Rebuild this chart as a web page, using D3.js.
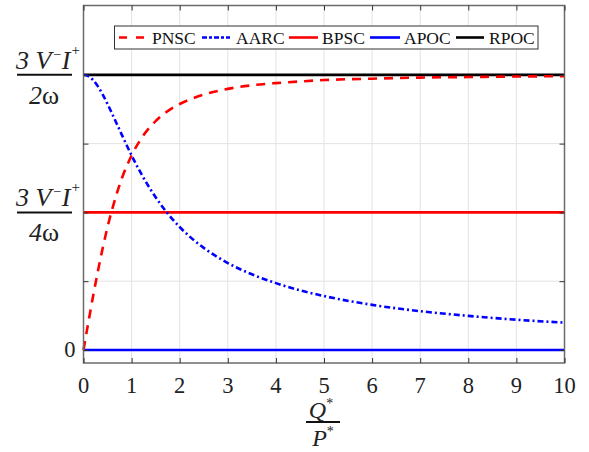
<!DOCTYPE html>
<html><head><meta charset="utf-8">
<script src="https://cdn.jsdelivr.net/npm/d3@7"></script>
<style>body{margin:0;background:#fff}svg{display:block}</style>
</head><body>
<svg id="c" width="589" height="452"></svg>
<script>
const xVals = [0,0.1,0.2,0.3,0.4,0.5,0.6,0.8,1,1.25,1.5,1.75,2,2.5,3,3.5,4,4.5,5,6,7,8,9,10];
const pnsc = [0,0.0995,0.196,0.287,0.371,0.447,0.514,0.625,0.707,0.781,0.832,0.868,0.894,0.928,0.949,0.962,0.970,0.976,0.981,0.986,0.990,0.992,0.994,0.995];
const aarc = [1,0.995,0.981,0.958,0.928,0.894,0.857,0.781,0.707,0.625,0.555,0.496,0.447,0.371,0.316,0.275,0.243,0.217,0.196,0.164,0.141,0.124,0.110,0.0995];
const bpscLevel = [0.5, 0.5];
const apocLevel = [0, 0];
const rpocLevel = [1, 1];
const constX = [0, 10];
const xTicks = [0,1,2,3,4,5,6,7,8,9,10];
const yTicks = [0,0.25,0.5,0.75,1];
const seriesNames = ["PNSC","AARC","BPSC","APOC","RPOC"];

const svg = d3.select("#c");
const L=83.5, R=564.5, T=5.5, B=363;
const x = d3.scaleLinear().domain([0,10]).range([L,R]);
const y = d3.scaleLinear().domain([-0.0473,1.252]).range([B,T]);
const font = "'Liberation Serif','Times New Roman',Times,serif";

// grid
const g = svg.append("g");
g.selectAll(".gx").data(xTicks.slice(1,-1)).enter().append("line")
  .attr("x1",d=>x(d)).attr("x2",d=>x(d)).attr("y1",T).attr("y2",B)
  .attr("stroke","#e3e3e3").attr("stroke-width",1);
g.selectAll(".gy").data(yTicks).enter().append("line")
  .attr("x1",L).attr("x2",R).attr("y1",d=>y(d)).attr("y2",d=>y(d))
  .attr("stroke","#e3e3e3").attr("stroke-width",1);

// data lines
const line = d3.line().x(d=>x(d[0])).y(d=>y(d[1])).curve(d3.curveMonotoneX);
const styles = {
  PNSC:{c:"#ff0000",dash:"9,7"},
  AARC:{c:"#0000ff",dash:"6,3,2,3"},
  BPSC:{c:"#ff0000",dash:null},
  APOC:{c:"#0000ff",dash:null},
  RPOC:{c:"#000000",dash:null}
};
function draw(xs, ys, s){
  svg.append("path").datum(xs.map((v,i)=>[v,ys[i]])).attr("d",line)
    .attr("fill","none").attr("stroke",s.c).attr("stroke-width",2.6)
    .attr("stroke-dasharray",s.dash);
}
draw(constX, rpocLevel, styles.RPOC);
draw(constX, bpscLevel, styles.BPSC);
draw(constX, apocLevel, styles.APOC);
draw(xVals, aarc, styles.AARC);
draw(xVals, pnsc, styles.PNSC);

// axes box
const ax = svg.append("g");
ax.append("rect").attr("x",L).attr("y",T).attr("width",R-L).attr("height",B-T)
  .attr("fill","none").attr("stroke","#6b6b6b").attr("stroke-width",1.5);
const tk=5;
const tickStyle = s=>{s.select(".domain").remove();s.selectAll("line").attr("stroke","#333");};
ax.append("g").attr("transform",`translate(0,${B})`)
  .call(d3.axisBottom(x).tickValues(xTicks).tickSizeInner(-tk).tickSizeOuter(0).tickFormat("")).call(tickStyle);
ax.append("g").attr("transform",`translate(0,${T})`)
  .call(d3.axisTop(x).tickValues(xTicks).tickSizeInner(-tk).tickSizeOuter(0).tickFormat("")).call(tickStyle);
ax.append("g").attr("transform",`translate(${L},0)`)
  .call(d3.axisLeft(y).tickValues(yTicks).tickSizeInner(-tk).tickSizeOuter(0).tickFormat("")).call(tickStyle);
ax.append("g").attr("transform",`translate(${R},0)`)
  .call(d3.axisRight(y).tickValues(yTicks).tickSizeInner(-tk).tickSizeOuter(0).tickFormat("")).call(tickStyle);

// x tick labels
svg.selectAll(".xl").data(xTicks).enter().append("text")
  .attr("x",d=>x(d)).attr("y",B+30).attr("text-anchor","middle")
  .attr("font-family",font).attr("font-size",22.5).attr("fill","#222").text(d=>d);

// y labels
svg.append("text").attr("x",L-8).attr("y",y(0)+7.5).attr("text-anchor","end")
  .attr("font-family",font).attr("font-size",22.5).attr("fill","#222").text("0");

function fracLabel(v, denomDigit){
  const cy = y(v);
  const t = svg.append("text").attr("x",16).attr("y",cy-6)
    .attr("font-family",font).attr("font-size",26).attr("font-style","italic").attr("fill","#222");
  t.append("tspan").text("3 V");
  t.append("tspan").attr("font-size",14).attr("dy",-10).attr("dx",1).text("\u2212");
  t.append("tspan").attr("dy",10).text("I");
  t.append("tspan").attr("font-size",15).attr("dy",-14).attr("dx",1).attr("font-style","normal").text("+");
  svg.append("line").attr("x1",17).attr("x2",72).attr("y1",cy).attr("y2",cy)
    .attr("stroke","#111").attr("stroke-width",2);
  const d = svg.append("text").attr("x",44).attr("y",cy+29).attr("text-anchor","middle")
    .attr("font-family",font).attr("font-size",26).attr("fill","#222");
  d.append("tspan").attr("font-style","italic").text(denomDigit);
  d.append("tspan").text("\u03c9");
}
fracLabel(1,"2");
fracLabel(0.5,"4");

// x axis label
const xc = x(5)-1;
const q = svg.append("text").attr("x",xc-2).attr("y",418).attr("text-anchor","middle")
  .attr("font-family",font).attr("font-size",24).attr("font-style","italic").attr("fill","#222");
q.append("tspan").text("Q");
q.append("tspan").attr("font-size",14).attr("dy",-10).attr("font-style","normal").text("*");
svg.append("line").attr("x1",xc-17).attr("x2",xc+17).attr("y1",422).attr("y2",422)
  .attr("stroke","#111").attr("stroke-width",2);
const p = svg.append("text").attr("x",xc).attr("y",446).attr("text-anchor","middle")
  .attr("font-family",font).attr("font-size",24).attr("font-style","italic").attr("fill","#222");
p.append("tspan").text("P");
p.append("tspan").attr("font-size",14).attr("dy",-10).attr("font-style","normal").text("*");

// legend
const lg = svg.append("g");
lg.append("rect").attr("x",114.5).attr("y",26).attr("width",423.5).attr("height",23)
  .attr("fill","#fff").attr("stroke","#333").attr("stroke-width",1);
const legPos = [
  {n:"PNSC", x0:119, x1:145, tx:152},
  {n:"AARC", x0:202, x1:230, tx:236},
  {n:"BPSC", x0:289, x1:318, tx:322},
  {n:"APOC", x0:370, x1:400, tx:404},
  {n:"RPOC", x0:456, x1:484, tx:489}
];
legPos.forEach(p=>{
  const s = styles[p.n];
  lg.append("line").attr("x1",p.x0).attr("x2",p.x1).attr("y1",37.5).attr("y2",37.5)
    .attr("stroke",s.c).attr("stroke-width",2.6).attr("stroke-dasharray",s.dash ? (p.n==="PNSC"?"8,9":"5,2,3,2") : null);
  lg.append("text").attr("x",p.tx).attr("y",43.5).attr("font-family",font).attr("font-size",17.5)
    .attr("fill","#111").text(p.n);
});
</script>
</body></html>
